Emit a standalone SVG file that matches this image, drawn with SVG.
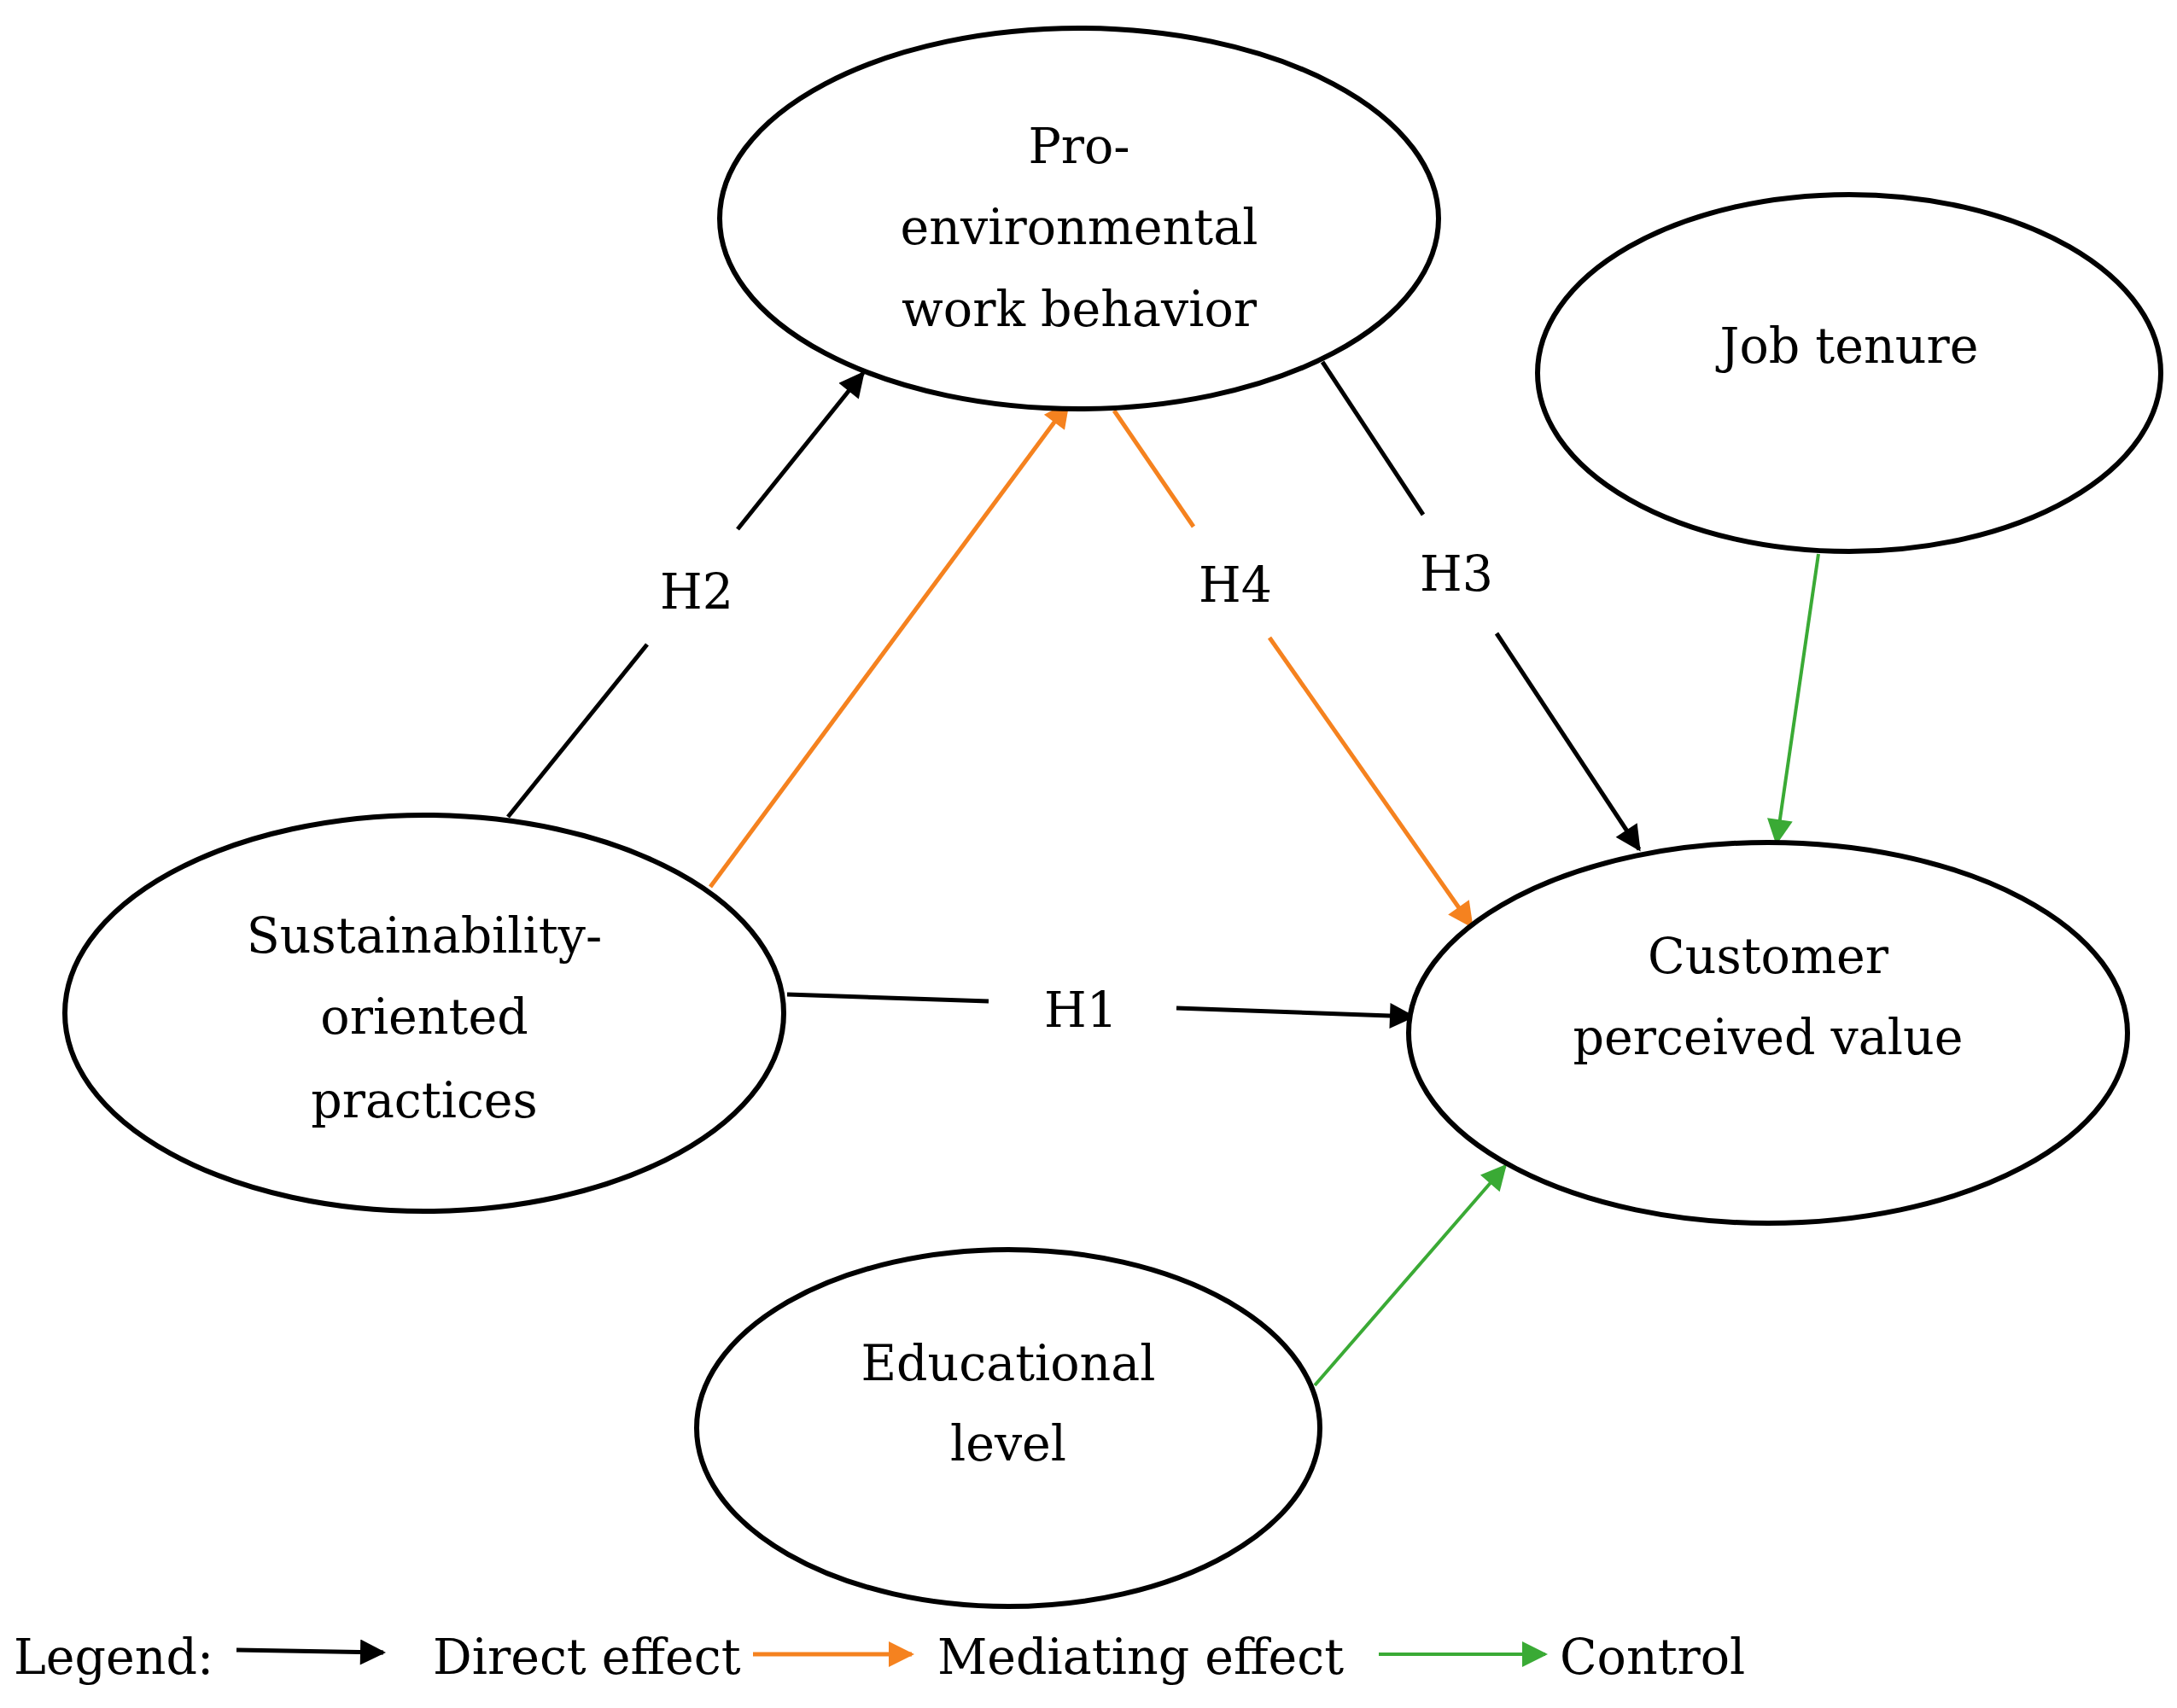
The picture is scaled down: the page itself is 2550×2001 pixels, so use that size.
<svg xmlns="http://www.w3.org/2000/svg" width="2550" height="2001" viewBox="0 0 2550 2001">
<style>
.n{fill:#fff;stroke:#000;stroke-width:6}
text{font-family:"DejaVu Serif","Liberation Serif",serif;font-size:57px;fill:#000;text-anchor:middle;dominant-baseline:central}
.k{stroke:#000;stroke-width:5;fill:none}
.o{stroke:#f5821f;stroke-width:5;fill:none}
.g{stroke:#3aaa35;stroke-width:4;fill:none}
</style>
<defs>
<marker id="ak" viewBox="0 0 10 10" refX="9" refY="5" markerWidth="36" markerHeight="30" markerUnits="userSpaceOnUse" orient="auto"><path d="M0,0L10,5L0,10z" fill="#000"/></marker>
<marker id="ao" viewBox="0 0 10 10" refX="9" refY="5" markerWidth="36" markerHeight="30" markerUnits="userSpaceOnUse" orient="auto"><path d="M0,0L10,5L0,10z" fill="#f5821f"/></marker>
<marker id="ag" viewBox="0 0 10 10" refX="9" refY="5" markerWidth="36" markerHeight="30" markerUnits="userSpaceOnUse" orient="auto"><path d="M0,0L10,5L0,10z" fill="#3aaa35"/></marker>
</defs>
<rect width="2550" height="2001" fill="#fff"/>
<g id="connectors">
<line class="k" x1="595" y1="957" x2="758" y2="755"/>
<line class="k" x1="864" y1="620" x2="1011" y2="437" marker-end="url(#ak)"/>
<text x="816" y="693">H2</text>
<line class="o" x1="832" y1="1039" x2="1251" y2="473" marker-end="url(#ao)"/>
<line class="o" x1="1305" y1="481" x2="1398" y2="617"/>
<line class="o" x1="1487" y1="747" x2="1724" y2="1085" marker-end="url(#ao)"/>
<text x="1447" y="685">H4</text>
<line class="k" x1="1549" y1="424" x2="1667" y2="603"/>
<line class="k" x1="1753" y1="742" x2="1920" y2="995" marker-end="url(#ak)"/>
<text x="1706" y="672">H3</text>
<line class="k" x1="922" y1="1165" x2="1158" y2="1173"/>
<line class="k" x1="1378" y1="1181" x2="1655" y2="1191" marker-end="url(#ak)"/>
<text x="1266" y="1183">H1</text>
<line class="g" x1="2130" y1="649" x2="2081" y2="987" marker-end="url(#ag)"/>
<line class="g" x1="1540" y1="1623" x2="1763" y2="1366" marker-end="url(#ag)"/>
</g>
<g id="pro"><ellipse class="n" cx="1264" cy="256" rx="421" ry="223"/><text x="1264" y="171">Pro-</text><text x="1264" y="266">environmental</text><text x="1264" y="362">work behavior</text></g>
<g id="job"><ellipse class="n" cx="2166" cy="437" rx="365" ry="209"/><text x="2166" y="405">Job tenure</text></g>
<g id="sus"><ellipse class="n" cx="497" cy="1187" rx="421" ry="232"/><text x="497" y="1096">Sustainability-</text><text x="497" y="1191">oriented</text><text x="497" y="1289">practices</text></g>
<g id="cpv"><ellipse class="n" cx="2071" cy="1210" rx="421" ry="223"/><text x="2071" y="1120">Customer</text><text x="2071" y="1215">perceived value</text></g>
<g id="edu"><ellipse class="n" cx="1181" cy="1673" rx="365" ry="209"/><text x="1181" y="1597">Educational</text><text x="1181" y="1691">level</text></g>
<g id="legend">
<text x="16" y="1941" style="text-anchor:start">Legend:</text>
<line class="k" x1="277" y1="1933" x2="449" y2="1936" marker-end="url(#ak)"/>
<text x="507" y="1941" style="text-anchor:start">Direct effect</text>
<line class="o" x1="882" y1="1938" x2="1068" y2="1938" marker-end="url(#ao)"/>
<text x="1098" y="1941" style="text-anchor:start">Mediating effect</text>
<line class="g" x1="1615" y1="1938" x2="1810" y2="1938" marker-end="url(#ag)"/>
<text x="1827" y="1941" style="text-anchor:start">Control</text>
</g>
</svg>
